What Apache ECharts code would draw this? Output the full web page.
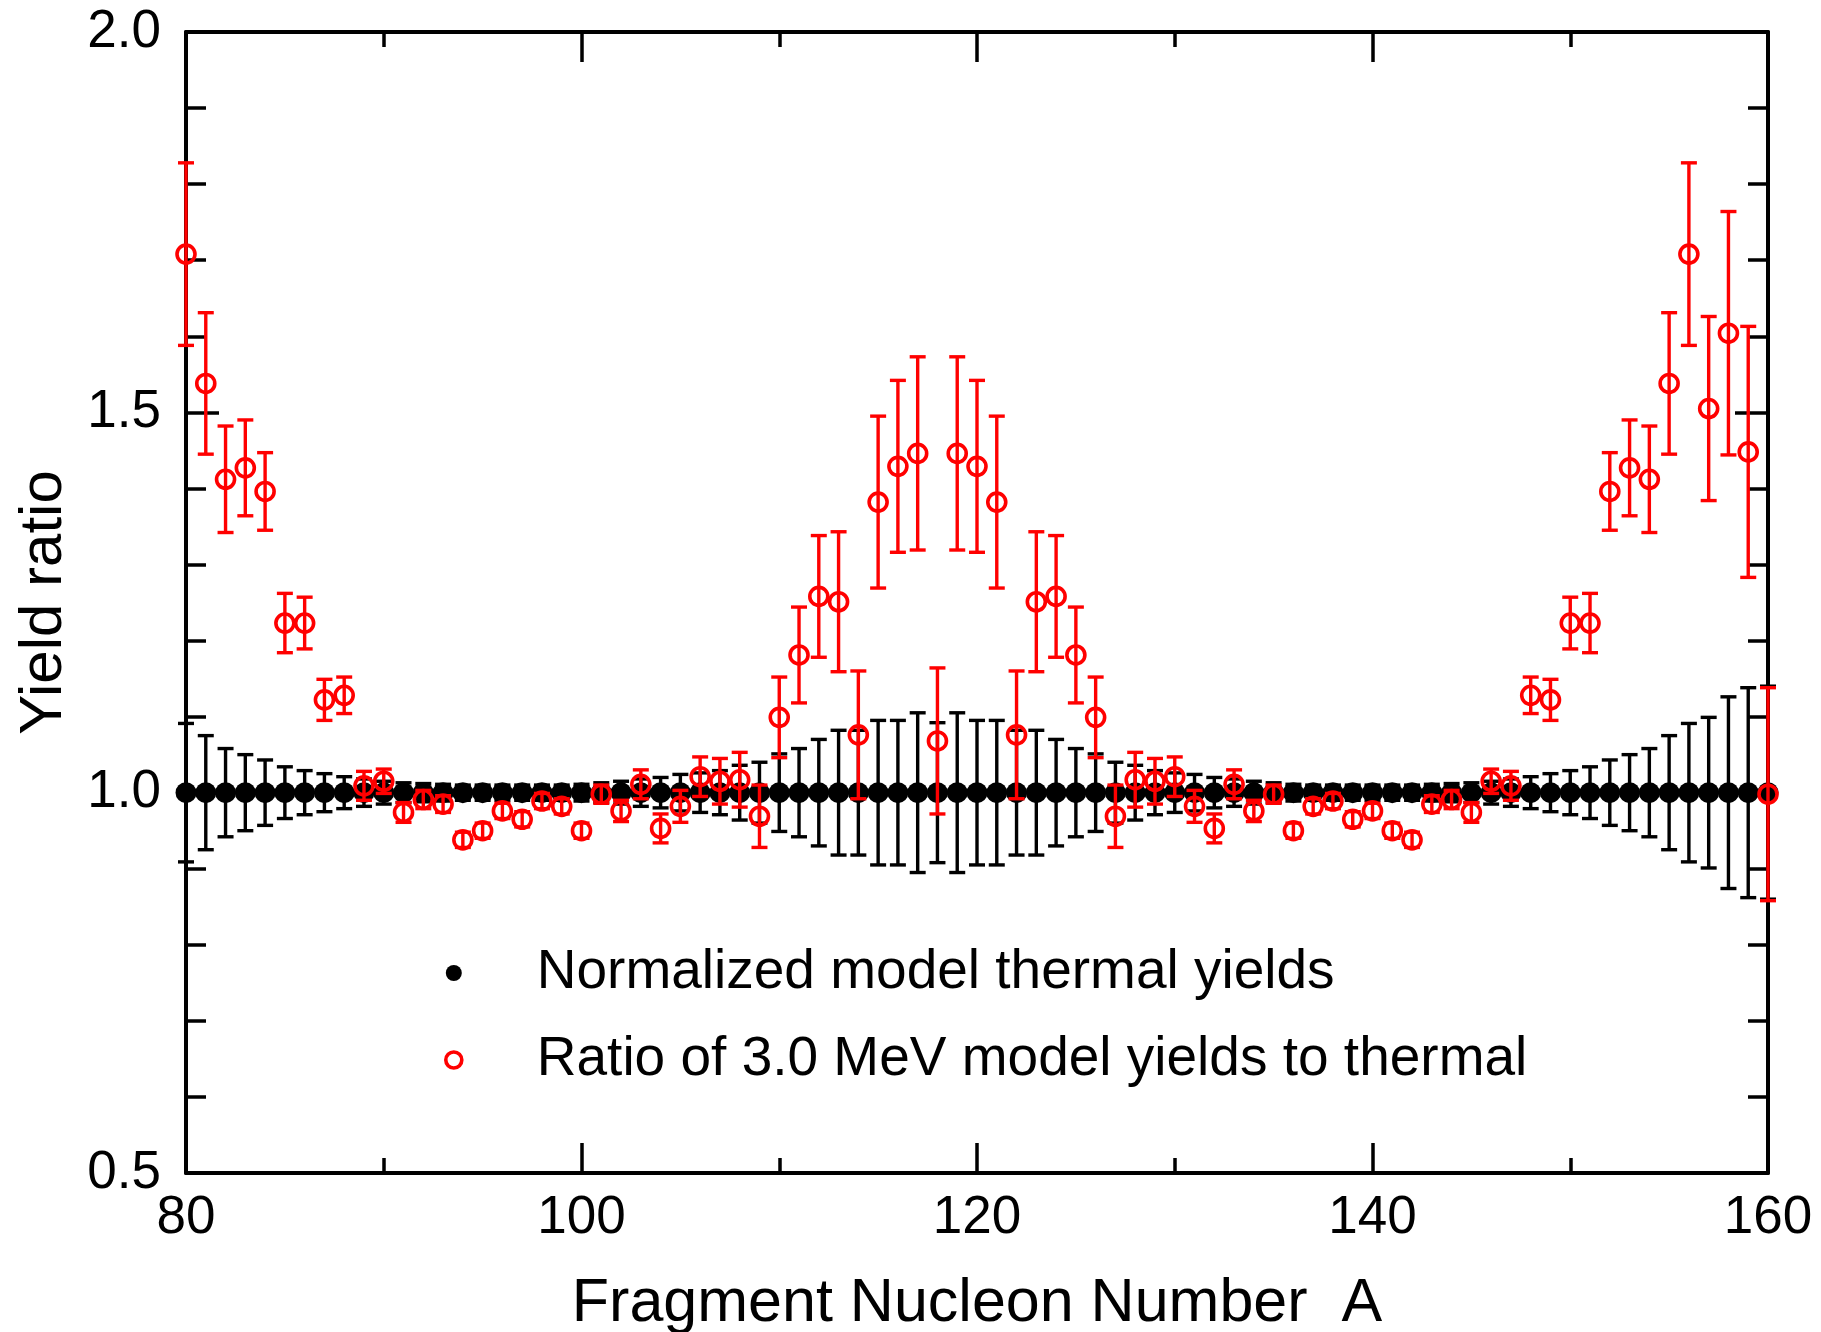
<!DOCTYPE html>
<html>
<head>
<meta charset="utf-8">
<script src="https://cdn.jsdelivr.net/npm/echarts@6/dist/echarts.min.js"></script>
<style>
html,body{margin:0;padding:0;background:#fff;}
#chart{width:1821px;height:1332px;}
</style>
</head>
<body>
<div id="chart"></div>
<script>
// Fragment nucleon number A
const nucleonA = [80,81,82,83,84,85,86,87,88,89,90,91,92,93,94,95,96,97,98,99,
  100,101,102,103,104,105,106,107,108,109,110,111,112,113,114,115,116,117,118,119,
  120,121,122,123,124,125,126,127,128,129,130,131,132,133,134,135,136,137,138,139,
  140,141,142,143,144,145,146,147,148,149,150,151,152,153,154,155,156,157,158,159,160];

// Normalized model thermal yields (all 1.0) and their uncertainties
const thermalYield = [1.0,1.0,1.0,1.0,1.0,1.0,1.0,1.0,1.0,1.0,1.0,1.0,1.0,1.0,1.0,1.0,1.0,1.0,1.0,1.0,
  1.0,1.0,1.0,1.0,1.0,1.0,1.0,1.0,1.0,1.0,1.0,1.0,1.0,1.0,1.0,1.0,1.0,1.0,1.0,1.0,
  1.0,1.0,1.0,1.0,1.0,1.0,1.0,1.0,1.0,1.0,1.0,1.0,1.0,1.0,1.0,1.0,1.0,1.0,1.0,1.0,
  1.0,1.0,1.0,1.0,1.0,1.0,1.0,1.0,1.0,1.0,1.0,1.0,1.0,1.0,1.0,1.0,1.0,1.0,1.0,1.0,1.0];
const thermalErr = [0.091,0.075,0.058,0.050,0.043,0.034,0.029,0.025,0.021,0.018,
  0.015,0.013,0.012,0.011,0.010,0.010,0.010,0.010,0.010,0.010,
  0.011,0.013,0.015,0.018,0.020,0.024,0.026,0.029,0.036,0.040,
  0.051,0.058,0.070,0.082,0.082,0.095,0.095,0.105,0.092,0.105,
  0.095,0.095,0.082,0.082,0.070,0.058,0.051,0.040,0.036,0.029,
  0.026,0.024,0.020,0.018,0.015,0.013,0.011,0.010,0.010,0.010,
  0.010,0.010,0.010,0.011,0.012,0.013,0.015,0.018,0.021,0.025,
  0.029,0.034,0.043,0.050,0.058,0.075,0.091,0.099,0.126,0.138,0.140];

// Ratio of 3.0 MeV model yields to thermal and uncertainties
const ratioYield = [1.708,1.538,1.412,1.427,1.396,1.223,1.223,1.122,1.128,1.009,
  1.015,0.974,0.991,0.985,0.938,0.950,0.976,0.965,0.989,0.982,
  0.950,0.998,0.976,1.011,0.953,0.982,1.021,1.015,1.017,0.969,
  1.099,1.181,1.258,1.251,1.076,1.382,1.429,1.446,1.068,1.446,
  1.429,1.382,1.076,1.251,1.258,1.181,1.099,0.969,1.017,1.015,
  1.021,0.982,0.953,1.011,0.976,0.998,0.950,0.982,0.989,0.965,
  0.976,0.950,0.938,0.985,0.991,0.974,1.015,1.009,1.128,1.122,
  1.223,1.223,1.396,1.427,1.412,1.538,1.708,1.505,1.604,1.448,0.998];
const ratioErr = [0.120,0.093,0.070,0.063,0.051,0.039,0.034,0.027,0.024,0.019,
  0.016,0.013,0.012,0.011,0.010,0.010,0.010,0.010,0.010,0.010,
  0.010,0.012,0.014,0.019,0.019,0.021,0.026,0.030,0.036,0.041,
  0.053,0.063,0.080,0.092,0.084,0.113,0.113,0.127,0.096,0.127,
  0.113,0.113,0.084,0.092,0.080,0.063,0.053,0.041,0.036,0.030,
  0.026,0.021,0.019,0.019,0.014,0.012,0.010,0.010,0.010,0.010,
  0.010,0.010,0.010,0.011,0.012,0.013,0.016,0.019,0.024,0.027,
  0.034,0.039,0.051,0.063,0.070,0.093,0.120,0.121,0.160,0.165,0.140];

const xTickValues = [80,100,120,140,160];
const yTickValues = [0.5,1.0,1.5,2.0];
const seriesNames = ['Normalized model thermal yields', 'Ratio of 3.0 MeV model yields to thermal'];
const xTitle = 'Fragment Nucleon Number  A';
const yTitle = 'Yield ratio';

const FONT = '"Liberation Sans", Arial, Helvetica, sans-serif';

function pts(ys) { return nucleonA.map((a, i) => [a, ys[i]]); }
function errPts(ys, es) { return nucleonA.map((a, i) => [a, ys[i], es[i]]); }

function makeErrRender(color) {
  return function (params, api) {
    const x = api.value(0), y = api.value(1), e = api.value(2);
    const top = api.coord([x, y + e]);
    const bot = api.coord([x, y - e]);
    const hw = 8;
    const st = { stroke: color, lineWidth: 3.4, fill: null };
    return {
      type: 'group',
      children: [
        { type: 'line', shape: { x1: top[0], y1: top[1], x2: bot[0], y2: bot[1] }, style: st },
        { type: 'line', shape: { x1: top[0] - hw, y1: top[1], x2: top[0] + hw, y2: top[1] }, style: st },
        { type: 'line', shape: { x1: bot[0] - hw, y1: bot[1], x2: bot[0] + hw, y2: bot[1] }, style: st }
      ]
    };
  };
}

const axisLineStyle = { color: '#000', width: 4 };
const tickStyle = { color: '#000', width: 3.5 };

const chart = echarts.init(document.getElementById('chart'), null, { renderer: 'canvas' });
chart.setOption({
  backgroundColor: '#fff',
  animation: false,
  textStyle: { fontFamily: FONT, color: '#000' },
  grid: { left: 186, right: 53, top: 32, bottom: 159, containLabel: false, outerBoundsMode: 'none' },
  legend: {
    orient: 'vertical',
    left: 439,
    top: 938,
    itemWidth: 156,
    itemHeight: 16,
    itemGap: 27,
    symbolKeepAspect: true,
    selectedMode: false,
    textStyle: { fontFamily: FONT, fontSize: 55, color: '#000', lineHeight: 60 },
    data: [
      { name: seriesNames[0], icon: 'circle', itemStyle: { color: '#000', borderWidth: 0 } },
      { name: seriesNames[1], icon: 'circle', itemStyle: { color: 'rgba(0,0,0,0)', borderColor: '#ff0000', borderWidth: 3.6 } }
    ]
  },
  xAxis: [
    {
      type: 'value', position: 'bottom',
      min: xTickValues[0], max: xTickValues[xTickValues.length - 1], interval: 20,
      name: xTitle, nameLocation: 'middle', nameGap: 101,
      nameTextStyle: { fontFamily: FONT, fontSize: 61, color: '#000' },
      axisLine: { show: true, onZero: false, lineStyle: axisLineStyle },
      axisTick: { show: true, inside: true, length: 30, lineStyle: tickStyle },
      minorTick: { show: true, splitNumber: 2, length: 15, lineStyle: tickStyle },
      axisLabel: { show: true, margin: 19, fontFamily: FONT, fontSize: 53, color: '#000' },
      splitLine: { show: false }, minorSplitLine: { show: false }
    },
    {
      type: 'value', position: 'top',
      min: xTickValues[0], max: xTickValues[xTickValues.length - 1], interval: 20,
      axisLine: { show: true, onZero: false, lineStyle: axisLineStyle },
      axisTick: { show: true, inside: true, length: 30, lineStyle: tickStyle },
      minorTick: { show: true, splitNumber: 2, length: 15, lineStyle: tickStyle },
      axisLabel: { show: false },
      splitLine: { show: false }, minorSplitLine: { show: false }
    }
  ],
  yAxis: [
    {
      type: 'value', position: 'left',
      min: yTickValues[0], max: yTickValues[yTickValues.length - 1], interval: 0.5,
      name: yTitle, nameLocation: 'middle', nameGap: 112, nameRotate: 90,
      nameTextStyle: { fontFamily: FONT, fontSize: 60, color: '#000' },
      axisLine: { show: true, onZero: false, lineStyle: axisLineStyle },
      axisTick: { show: true, inside: true, length: 33, lineStyle: tickStyle },
      minorTick: { show: true, splitNumber: 5, length: 20, lineStyle: tickStyle },
      axisLabel: { show: true, margin: 25, fontFamily: FONT, fontSize: 53, color: '#000',
        formatter: v => v.toFixed(1) },
      splitLine: { show: false }, minorSplitLine: { show: false }
    },
    {
      type: 'value', position: 'right',
      min: yTickValues[0], max: yTickValues[yTickValues.length - 1], interval: 0.5,
      axisLine: { show: true, onZero: false, lineStyle: axisLineStyle },
      axisTick: { show: true, inside: true, length: 33, lineStyle: tickStyle },
      minorTick: { show: true, splitNumber: 5, length: 20, lineStyle: tickStyle },
      axisLabel: { show: false },
      splitLine: { show: false }, minorSplitLine: { show: false }
    }
  ],
  series: [
    {
      name: 'thermalErrorBars', type: 'custom', xAxisIndex: 0, yAxisIndex: 0,
      renderItem: makeErrRender('#000'), data: errPts(thermalYield, thermalErr),
      z: 2, silent: true, clip: false
    },
    {
      name: seriesNames[0], type: 'scatter', xAxisIndex: 0, yAxisIndex: 0,
      symbol: 'circle', symbolSize: 21,
      itemStyle: { color: '#000', opacity: 1 },
      data: pts(thermalYield), z: 3, clip: false
    },
    {
      name: 'ratioErrorBars', type: 'custom', xAxisIndex: 0, yAxisIndex: 0,
      renderItem: makeErrRender('#ff0000'), data: errPts(ratioYield, ratioErr),
      z: 4, silent: true, clip: false
    },
    {
      name: seriesNames[1], type: 'scatter', xAxisIndex: 0, yAxisIndex: 0,
      symbol: 'circle', symbolSize: 18,
      itemStyle: { color: 'rgba(0,0,0,0)', borderColor: '#ff0000', borderWidth: 3.6, opacity: 1 },
      data: pts(ratioYield), z: 5, clip: false
    }
  ]
});
</script>
</body>
</html>
